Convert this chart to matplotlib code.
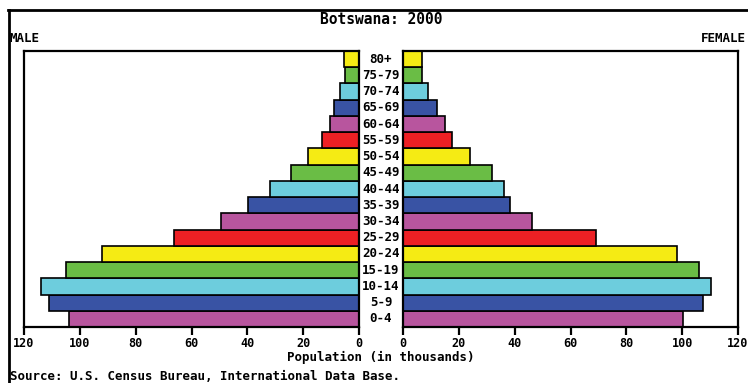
import matplotlib
matplotlib.use("Agg")
import matplotlib.pyplot as plt
from matplotlib import transforms
from matplotlib.lines import Line2D

# Population of Botswana by age group, in thousands
age_groups = ["0-4", "5-9", "10-14", "15-19", "20-24", "25-29", "30-34",
              "35-39", "40-44", "45-49", "50-54", "55-59", "60-64",
              "65-69", "70-74", "75-79", "80+"]
male = [104, 111, 114, 105, 92, 66.4, 49.4, 39.6, 31.9, 24.3, 18.1,
        13.2, 10.4, 8.8, 6.9, 5.1, 5.4]
female = [100.4, 107.3, 110.3, 105.9, 98.3, 69.2, 46.2, 38.4, 36.0,
          31.8, 24.0, 17.7, 15.0, 12.2, 9.0, 6.8, 6.8]
ticks = [0, 20, 40, 60, 80, 100, 120]

palette = ["#B8559E", "#3953A4", "#6DCDDD", "#6ABD45", "#F5EB14", "#ED2024"]
colors = [palette[i % len(palette)] for i in range(len(age_groups))]

W, H = 748, 383
fig = plt.figure(figsize=(W / 100, H / 100), dpi=100)
FONT = "DejaVu Sans Mono"


def fx(x):
    return x / W


def fy(y):
    return 1 - y / H


ax_top, ax_bot = 51, 327
axL = fig.add_axes([fx(24), fy(ax_bot), 335 / W, (ax_bot - ax_top) / H])
axR = fig.add_axes([fx(403), fy(ax_bot), 335 / W, (ax_bot - ax_top) / H])

ypos = list(range(len(age_groups)))
axL.barh(ypos, male, height=1.0, color=colors, edgecolor="black", linewidth=1.2)
axR.barh(ypos, female, height=1.0, color=colors, edgecolor="black", linewidth=1.2)

axL.set_xlim(120, 0)
axR.set_xlim(0, 120)
for ax in (axL, axR):
    ax.set_ylim(-0.5, len(age_groups) - 0.5)
    ax.set_yticks([])
    ax.set_xticks(ticks)
    ax.set_xticklabels([str(t) for t in ticks], fontfamily=FONT,
                       fontweight="bold", fontsize=8.5)
    ax.tick_params(axis="x", direction="out", length=6, width=1.6, pad=1)
    for s in ax.spines.values():
        s.set_linewidth(1.6)

# Age group labels between the two halves
tr = transforms.blended_transform_factory(fig.transFigure, axL.transData)
for y, lab in zip(ypos, age_groups):
    fig.text(fx(381), y, lab, transform=tr, ha="center", va="center",
             fontfamily=FONT, fontweight="bold", fontsize=9)

fig.text(fx(381), fy(20), "Botswana: 2000", ha="center", va="center",
         fontfamily=FONT, fontweight="bold", fontsize=10.5)
fig.text(fx(10), fy(38), "MALE", ha="left", va="center",
         fontfamily=FONT, fontweight="bold", fontsize=9)
fig.text(fx(746), fy(38), "FEMALE", ha="right", va="center",
         fontfamily=FONT, fontweight="bold", fontsize=9)
fig.text(fx(381), fy(357), "Population (in thousands)", ha="center",
         va="center", fontfamily=FONT, fontweight="bold", fontsize=9)
fig.text(fx(10), fy(377), "Source: U.S. Census Bureau, International Data Base.",
         ha="left", va="center", fontfamily=FONT, fontweight="bold", fontsize=9)

# Outer frame lines (top and left)
fig.add_artist(Line2D([fx(8), 1], [fy(10), fy(10)], transform=fig.transFigure,
                      color="black", linewidth=2))
fig.add_artist(Line2D([fx(9), fx(9)], [fy(10), 0], transform=fig.transFigure,
                      color="black", linewidth=2))

fig.savefig("out.png", dpi=100)
